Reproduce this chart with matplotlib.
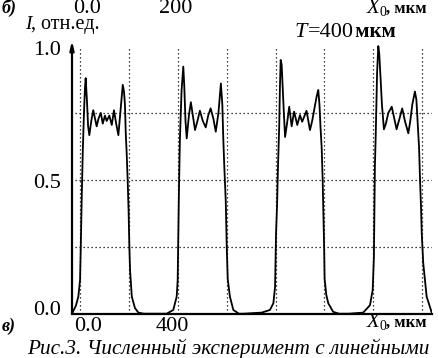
import matplotlib
matplotlib.use("Agg")
import numpy as np
import matplotlib.pyplot as plt

# ---- data (x in um, intensity in rel. units) ----
p1_x = [-34, -18, -8, -1, 2, 6, 10, 15, 19, 22, 27, 32, 37, 45, 53, 60, 67, 75, 84, 92, 101,
        108, 119, 129, 138, 147, 156, 165, 174, 179, 183, 186, 190, 194, 198, 201, 204, 211,
        224, 238, 260]
p1_y = [0.0, 0.03, 0.064, 0.126, 0.25, 0.44, 0.6, 0.75, 0.84, 0.88, 0.8, 0.7, 0.667, 0.72,
        0.76, 0.73, 0.70, 0.73, 0.75, 0.71, 0.74, 0.72, 0.74, 0.705, 0.76, 0.71, 0.667, 0.76,
        0.855, 0.83, 0.78, 0.68, 0.6, 0.5, 0.38, 0.25, 0.16, 0.064, 0.021, 0.004, 0.0]

p2_x = [300, 354, 381, 395, 399, 401, 404, 408, 415, 422, 426, 431, 436, 445, 453, 461, 470,
        480, 490, 502, 514, 524, 534, 545, 555, 566, 576, 582, 586, 590, 596, 600, 604, 613,
        627, 650]
p2_y = [0.0, 0.0, 0.014, 0.064, 0.126, 0.25, 0.45, 0.65, 0.835, 0.923, 0.85, 0.72, 0.655,
        0.74, 0.79, 0.74, 0.686, 0.72, 0.758, 0.72, 0.696, 0.74, 0.767, 0.73, 0.68, 0.75,
        0.86, 0.78, 0.65, 0.55, 0.42, 0.25, 0.13, 0.064, 0.014, 0.0]

p3_x = [668, 743, 777, 791, 798, 802, 806, 810, 815, 818, 821, 825, 829, 834, 839, 847, 856,
        866, 876, 889, 900, 909, 927, 941, 950, 960, 968, 975, 980, 984, 989, 993, 996, 999,
        1001, 1008, 1016, 1036, 1060]
p3_y = [0.0, 0.004, 0.014, 0.039, 0.1, 0.3, 0.4, 0.55, 0.7, 0.85, 0.948, 0.93, 0.85, 0.75,
        0.66, 0.71, 0.773, 0.70, 0.755, 0.705, 0.742, 0.717, 0.758, 0.686, 0.72, 0.77, 0.81,
        0.836, 0.78, 0.7, 0.62, 0.5, 0.38, 0.25, 0.13, 0.07, 0.039, 0.007, 0.0]

p4_x = [1100, 1159, 1187, 1198, 1203, 1205, 1207, 1210, 1213, 1216, 1221, 1225, 1230, 1236,
        1244, 1252, 1262, 1276, 1286, 1296, 1308, 1319, 1330, 1344, 1352, 1360, 1371, 1377,
        1383, 1388, 1392, 1396, 1399, 1405, 1419, 1440]
p4_y = [0.0, 0.004, 0.032, 0.089, 0.213, 0.4, 0.55, 0.65, 0.78, 0.9, 1.0, 0.97, 0.88, 0.78,
        0.689, 0.71, 0.75, 0.773, 0.73, 0.689, 0.73, 0.767, 0.72, 0.674, 0.72, 0.78, 0.83,
        0.8, 0.7, 0.62, 0.5, 0.4, 0.3, 0.19, 0.064, 0.004]

grid_x = [0, 200, 400, 600, 800, 1000, 1200, 1400]
grid_y = [0.25, 0.5, 0.75]

x = np.array(p1_x + p2_x + p3_x + p4_x, dtype=float)
y = np.array(p1_y + p2_y + p3_y + p4_y, dtype=float)

W, H = 439, 358
fig = plt.figure(figsize=(W / 100, H / 100), dpi=100)
serif = "Liberation Serif"


def fx(px):
    return px / W


def fy(py):
    return 1 - py / H


def label(px, py, s, ha="left", size=16, **kw):
    # py is the baseline in picture pixels
    fig.text(fx(px), fy(py), s, family=serif, fontsize=size, va="baseline", ha=ha, **kw)


# axes placed by pixels: x=0 um at 80.3 px, 1400 um at 422 px; y=0 at 313.7, y=1 at 46
ax = fig.add_axes([fx(72), fy(313.7), (432 - 72) / W, (313.7 - 42) / H])
ax.set_xlim(-34, 1441)
ax.set_ylim(0, 1.015)
for s in ["top", "right", "left"]:
    ax.spines[s].set_visible(False)
ax.spines["bottom"].set_linewidth(1.6)
ax.set_xticks([])
ax.set_yticks([])
ax.patch.set_alpha(0)

# y axis with small arrow
ax.annotate("", xy=(-34, 1.02), xytext=(-34, 0), xycoords="data",
            arrowprops=dict(arrowstyle="-|>,head_length=0.5,head_width=0.12",
                            lw=1.6, color="black", shrinkA=0, shrinkB=0),
            annotation_clip=False)

# dotted grid
ax.vlines(grid_x, 0, 1.0, colors="black", linestyles=(0, (1, 2.2)), lw=0.9)
ax.hlines(grid_y, -22, 1441, colors="black", linestyles=(0, (1, 2.2)), lw=0.9)

ax.plot(x, y, color="black", lw=1.3)

# top labels (fig. b)
label(2, 13, "б)", size=13, style="italic", weight="bold")
label(87, 13, "0.0", ha="center")
label(176, 13, "200", ha="center")
label(367, 13, "X", size=15, style="italic")
label(380, 16, "0", size=10)
label(386, 13, ", мкм", size=12, weight="bold")

label(25, 29, "I", size=14, style="italic")
label(31, 29, ", отн.ед.", size=14.5)
label(295, 37, "T", size=16, style="italic")
label(308, 37, "=400", size=16)
label(350, 37, " мкм", size=15, weight="bold")

# y tick labels
label(61, 55, "1.0", ha="right")
label(61, 188, "0.5", ha="right")
label(61, 315, "0.0", ha="right")

# bottom labels (fig. v)
label(2, 331, "в)", size=13, style="italic", weight="bold")
label(88, 331, "0.0", ha="center")
label(172, 331, "400", ha="center")
label(367, 327, "X", size=15, style="italic")
label(380, 330, "0", size=10)
label(386, 327, ", мкм", size=12, weight="bold")

label(27, 354, "Рис.3. Численный эксперимент с линейными", size=15.3, style="italic")

fig.savefig("out.png", dpi=100)
